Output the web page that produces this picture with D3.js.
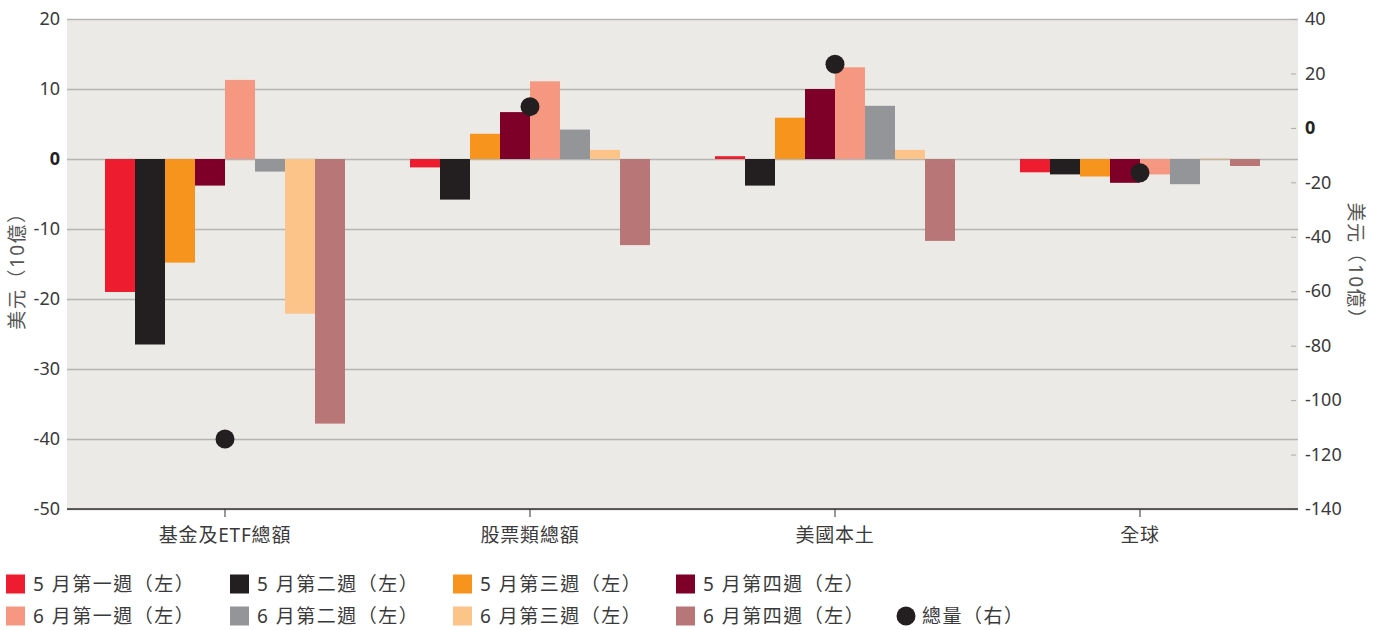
<!DOCTYPE html>
<html>
<head>
<meta charset="utf-8">
<script src="https://cdn.jsdelivr.net/npm/d3@7"></script>
<style>
  html, body { margin: 0; padding: 0; background: #fff; }
  svg { display: block; }
  text { font-family: "Noto Sans", "Noto Sans CJK TC", sans-serif; fill: #3a3a3a; }
</style>
</head>
<body>
<svg id="chart" width="1382" height="630"></svg>
<script>
// Fund flow categories
const categories = ["基金及ETF總額", "股票類總額", "美國本土", "全球"];

// Weekly series (left axis, USD bn)
const seriesNames = [
  "5 月第一週（左）", "5 月第二週（左）", "5 月第三週（左）", "5 月第四週（左）",
  "6 月第一週（左）", "6 月第二週（左）", "6 月第三週（左）", "6 月第四週（左）"
];
const may1 = [-19.0, -1.2, 0.4, -1.9];
const may2 = [-26.5, -5.8, -3.8, -2.2];
const may3 = [-14.8, 3.6, 5.9, -2.5];
const may4 = [-3.8, 6.7, 10.0, -3.4];
const jun1 = [11.3, 11.1, 13.1, -2.2];
const jun2 = [-1.8, 4.2, 7.6, -3.6];
const jun3 = [-22.1, 1.3, 1.3, 0.1];
const jun4 = [-37.8, -12.3, -11.7, -1.0];
const seriesValues = [may1, may2, may3, may4, jun1, jun2, jun3, jun4];
const seriesColors = ["#ED1C2E", "#231F20", "#F7941D", "#7E0029",
                      "#F69781", "#939598", "#FDC48A", "#B87676"];

// Total (right axis, USD bn)
const totalName = "總量（右）";
const totalValues = [-114.3, 7.8, 23.4, -16.5];

const leftTicks = [20, 10, 0, -10, -20, -30, -40, -50];
const rightTicks = [40, 20, 0, -20, -40, -60, -80, -100, -120, -140];
const axisTitle = "美元（10億）";

const svg = d3.select("#chart");
const plot = { left: 67, right: 1298, top: 19, bottom: 509 };
const fmt = d => String(d); // plain hyphen for negatives

const yL = d3.scaleLinear().domain([-50, 20]).range([plot.bottom, plot.top]);
const yR = d3.scaleLinear().domain([-140, 40]).range([plot.bottom, plot.top]);
const x0 = d3.scaleBand().domain(categories).range([72.5, 1292.5]).paddingInner(0).paddingOuter(0);
const x1 = d3.scaleBand().domain(d3.range(8)).range([0, 240]);
const groupOffset = (x0.bandwidth() - 240) / 2;

// plot background
svg.append("rect")
  .attr("x", plot.left).attr("y", plot.top)
  .attr("width", plot.right - plot.left).attr("height", plot.bottom - plot.top)
  .attr("fill", "#ECEAE6");

// left axis gridlines + labels
const gL = svg.append("g").attr("transform", `translate(${plot.left},0)`)
  .call(d3.axisLeft(yL).tickValues(leftTicks).tickFormat(fmt).tickPadding(8)
    .tickSizeInner(-(plot.right - plot.left)).tickSizeOuter(0));
gL.select(".domain").remove();
gL.selectAll(".tick line").attr("stroke", "#B5B5B5").attr("stroke-width", 1.5);
gL.selectAll(".tick text")
  .attr("x", -7)
  .style("font-size", "18px")
  .style("font-weight", d => d === 0 ? "bold" : "normal")
  .style("fill", d => d === 0 ? "#222" : "#3a3a3a");

// right axis labels with short inward ticks
const gR = svg.append("g").attr("transform", `translate(${plot.right},0)`)
  .call(d3.axisRight(yR).tickValues(rightTicks).tickFormat(fmt)
    .tickSizeInner(0).tickSizeOuter(0).tickPadding(7));
gR.select(".domain").remove();
gR.selectAll(".tick line").remove();
gR.selectAll(".tick").append("line")
  .attr("x1", -7).attr("x2", -2).attr("stroke", "#aaa").attr("stroke-width", 1);
gR.selectAll(".tick text")
  .style("font-size", "18px")
  .style("font-weight", d => d === 0 ? "bold" : "normal")
  .style("fill", d => d === 0 ? "#222" : "#3a3a3a");

// bars
const groups = svg.append("g").selectAll("g").data(categories).join("g")
  .attr("transform", d => `translate(${x0(d) + groupOffset},0)`);
groups.selectAll("rect")
  .data((c, ci) => seriesValues.map((vals, si) => ({ si, v: vals[ci] })))
  .join("rect")
  .attr("x", d => x1(d.si))
  .attr("width", x1.bandwidth())
  .attr("y", d => yL(Math.max(0, d.v)))
  .attr("height", d => Math.abs(yL(d.v) - yL(0)))
  .attr("fill", d => seriesColors[d.si]);

// bottom axis
const gB = svg.append("g").attr("transform", `translate(0,${plot.bottom})`)
  .call(d3.axisBottom(x0).tickSizeInner(8).tickSizeOuter(0).tickPadding(12));
gB.select(".domain").attr("d", `M${plot.left},0H${plot.right}`).attr("stroke", "#333").attr("stroke-width", 1.5);
gB.selectAll(".tick line").attr("stroke", "#333");
gB.selectAll(".tick text").style("font-size", "19px").style("letter-spacing", "0.8px");

// totals (right axis)
svg.append("g").selectAll("circle").data(totalValues).join("circle")
  .attr("cx", (d, i) => x0(categories[i]) + x0.bandwidth() / 2)
  .attr("cy", d => yR(d))
  .attr("r", 9.5)
  .attr("fill", "#231F20");

// axis titles
svg.append("text")
  .attr("transform", `translate(24,${(plot.top + plot.bottom) / 2 + 2}) rotate(-90)`)
  .attr("text-anchor", "middle")
  .style("font-size", "19px").style("letter-spacing", "1.5px").style("fill", "#555")
  .text(axisTitle);
svg.append("text")
  .attr("transform", `translate(1349,${(plot.top + plot.bottom) / 2 + 2}) rotate(90)`)
  .attr("text-anchor", "middle")
  .style("font-size", "19px").style("letter-spacing", "1.5px").style("fill", "#555")
  .text(axisTitle);

// legend
const legendX = [6, 230, 453, 676];
const legendY = [584, 616];
const legend = svg.append("g");
seriesNames.forEach((name, i) => {
  const col = i % 4, row = Math.floor(i / 4);
  const g = legend.append("g").attr("transform", `translate(${legendX[col]},${legendY[row]})`);
  g.append("rect").attr("x", 0).attr("y", -9.5).attr("width", 19).attr("height", 19)
    .attr("fill", seriesColors[i]);
  g.append("text").attr("x", 27).attr("y", 0).attr("dy", "0.36em")
    .style("font-size", "19px").style("letter-spacing", "1.5px")
    .text(name);
});
const gt = legend.append("g").attr("transform", `translate(906,${legendY[1]})`);
gt.append("circle").attr("r", 9.5).attr("fill", "#231F20");
gt.append("text").attr("x", 16).attr("dy", "0.36em")
  .style("font-size", "19px").style("letter-spacing", "1.5px").text(totalName);
</script>
</body>
</html>
